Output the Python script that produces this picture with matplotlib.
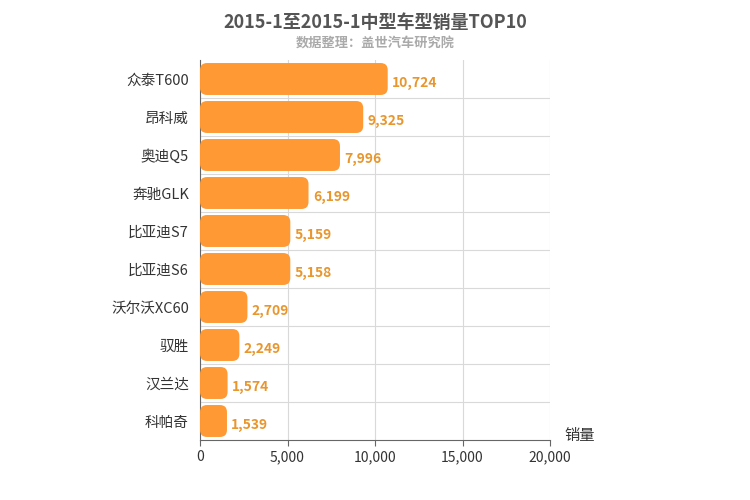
import matplotlib.pyplot as plt
from matplotlib.patches import FancyBboxPatch

plt.rcParams["font.family"] = ["Noto Sans CJK SC"]

models = ["众泰T600", "昂科威", "奥迪Q5", "奔驰GLK", "比亚迪S7", "比亚迪S6",
          "沃尔沃XC60", "驭胜", "汉兰达", "科帕奇"]
sales = [10724, 9325, 7996, 6199, 5159, 5158, 2709, 2249, 1574, 1539]
xticks = [0, 5000, 10000, 15000, 20000]

fig = plt.figure(figsize=(7.5, 5.0), dpi=100)
ax = fig.add_axes([0.2667, 0.12, 0.4667, 0.76])
ax.set_xlim(0, 20000)
ax.set_ylim(len(models) - 0.5, -0.5)

# px -> data units for rounded corners
ux = 20000 / 350
uy = 10 / 380
h = 0.84
for i, (name, v) in enumerate(zip(models, sales)):
    p = FancyBboxPatch((0, i - h / 2), v, h,
                       boxstyle=f"round,pad=0,rounding_size={7 * ux}",
                       mutation_aspect=uy / ux,
                       facecolor="#ff9933", edgecolor="none", zorder=3)
    ax.add_patch(p)
    ax.text(v + 250, i + 0.1, f"{v:,}", va="center", ha="left",
            fontsize=10, fontweight="bold", color="#e8962e", zorder=4)

ax.set_yticks(range(len(models)))
ax.set_yticklabels(models, fontsize=10.5, color="#333333")
ax.set_xticks(xticks)
ax.set_xticklabels([f"{t:,}" for t in xticks], fontsize=10, color="#333333")
ax.tick_params(axis="y", length=0, pad=8)
ax.tick_params(axis="x", length=4, color="#666666")
ax.set_yticks([i + 0.5 for i in range(len(models) - 1)], minor=True)
ax.grid(True, axis="x", color="#d9d9d9", linewidth=0.8, zorder=0)
ax.grid(True, axis="y", which="minor", color="#d9d9d9", linewidth=0.8, zorder=0)
ax.tick_params(axis="y", which="minor", length=0)
for s in ["top", "right"]:
    ax.spines[s].set_visible(False)
ax.spines["left"].set_color("#666666")
ax.spines["bottom"].set_color("#666666")
ax.text(1.04, -0.01, "销量", transform=ax.transAxes, fontsize=11,
        color="#333333", ha="left", va="bottom")

fig.text(0.5, 0.955, "2015-1至2015-1中型车型销量TOP10", ha="center", va="center",
         fontsize=13, fontweight="bold", color="#555555")
fig.text(0.5, 0.912, "数据整理：盖世汽车研究院", ha="center", va="center",
         fontsize=9.5, color="#aaaaaa", fontweight="bold")

fig.savefig("out.png", dpi=100)
